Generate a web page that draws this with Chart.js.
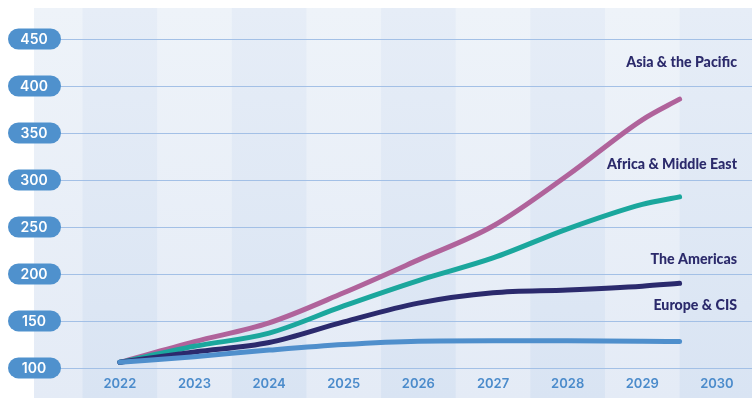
<!DOCTYPE html>
<html>
<head>
<meta charset="utf-8">
<style>
  html, body { margin: 0; padding: 0; background: #ffffff; }
  #wrap { width: 752px; height: 398px; position: relative; }
</style>
<script src="https://cdn.jsdelivr.net/npm/chart.js@4.4.1/dist/chart.umd.min.js"></script>
</head>
<body>
<div id="wrap"><canvas id="chart" width="752" height="398"></canvas></div>
<script>
// data
const years = [2022, 2023, 2024, 2025, 2026, 2027, 2028, 2029, 2029.5];
const tickYears = [2022, 2023, 2024, 2025, 2026, 2027, 2028, 2029, 2030];
const yTicks = [100, 150, 200, 250, 300, 350, 400, 450];

const asiaPacific = [106, 128, 148, 180, 215, 251, 305, 364, 386];
const africaMiddleEast = [106, 123, 137, 166, 193, 217, 248, 274, 282];
const americas = [106, 117, 127, 149, 169, 180, 183, 187, 190];
const europeCis = [106, 112, 119, 125, 128.5, 129, 129, 128.5, 128];

const seriesNames = ['Asia & the Pacific', 'Africa & Middle East', 'The Americas', 'Europe & CIS'];
const seriesColors = ['#b0639b', '#1ba79d', '#2b2a6d', '#4f8fcc'];
const labelOffsets = [-37, -32, -24, -36];

function toPoints(values) {
    return values.map((v, i) => ({ x: years[i], y: v }));
}

// background bands, grid lines, pill labels, year labels, series names
const decorPlugin = {
    id: 'decor',
    beforeDatasetsDraw(chart) {
        const { ctx, chartArea, scales } = chart;
        const x = scales.x, y = scales.y;
        ctx.save();
        const light = ctx.createLinearGradient(0, chartArea.top, 0, chartArea.bottom);
        light.addColorStop(0, '#eef3f9');
        light.addColorStop(1, '#e4ebf6');
        const dark = ctx.createLinearGradient(0, chartArea.top, 0, chartArea.bottom);
        dark.addColorStop(0, '#e6edf7');
        dark.addColorStop(1, '#d9e4f3');
        ctx.fillStyle = light;
        ctx.fillRect(chartArea.left, chartArea.top, chartArea.right - chartArea.left, chartArea.bottom - chartArea.top);
        tickYears.forEach((yr, i) => {
            if (i % 2 !== 0) return;
            const l = x.getPixelForValue(yr - 0.5);
            const r = Math.min(x.getPixelForValue(yr + 0.5), chartArea.right);
            ctx.fillStyle = dark;
            ctx.fillRect(l, chartArea.top, r - l, chartArea.bottom - chartArea.top);
        });
        // grid lines
        ctx.strokeStyle = '#a3c0e6';
        ctx.lineWidth = 1;
        yTicks.forEach(v => {
            const py = Math.round(y.getPixelForValue(v)) + 0.5;
            ctx.beginPath();
            ctx.moveTo(chartArea.left, py);
            ctx.lineTo(chartArea.right, py);
            ctx.stroke();
        });
        ctx.restore();
    },
    afterDraw(chart) {
        const { ctx, scales } = chart;
        const x = scales.x, y = scales.y;
        ctx.save();
        // y tick pills
        yTicks.forEach(v => {
            const py = y.getPixelForValue(v);
            ctx.fillStyle = '#4f91cd';
            ctx.beginPath();
            ctx.roundRect(8, py - 10.5, 53, 21, 10.5);
            ctx.fill();
            ctx.fillStyle = '#ffffff';
            ctx.font = '600 14px Inter, "Noto Sans", sans-serif';
            ctx.textAlign = 'center';
            ctx.textBaseline = 'middle';
            ctx.fillText(String(v), 34, py + 0.5);
        });
        // x labels
        ctx.fillStyle = '#4b8bcb';
        ctx.font = '600 13px Inter, "Noto Sans", sans-serif';
        ctx.textAlign = 'center';
        ctx.textBaseline = 'middle';
        tickYears.forEach(yr => {
            ctx.fillText(String(yr), x.getPixelForValue(yr), 384);
        });
        // series names
        ctx.fillStyle = '#2b2a6b';
        ctx.font = '900 14.2px Lato, "Noto Sans", sans-serif';
        ctx.textAlign = 'right';
        chart.data.datasets.forEach(ds => {
            const last = ds.data[ds.data.length - 1];
            const idx = seriesNames.indexOf(ds.label);
            ctx.fillText(ds.label, 737, y.getPixelForValue(last.y) + labelOffsets[idx]);
        });
        ctx.restore();
    }
};

const datasets = [asiaPacific, africaMiddleEast, americas, europeCis].map((vals, i) => ({
    label: seriesNames[i],
    data: toPoints(vals),
    borderColor: seriesColors[i],
    backgroundColor: seriesColors[i],
    borderWidth: 5,
    borderCapStyle: 'round',
    pointRadius: 0,
    cubicInterpolationMode: 'monotone',
    fill: false
})).reverse();

new Chart(document.getElementById('chart').getContext('2d'), {
    type: 'line',
    data: { datasets: datasets },
    options: {
        responsive: false,
        animation: false,
        layout: { padding: { left: 34, top: 8, right: 0, bottom: 0 } },
        plugins: { legend: { display: false }, tooltip: { enabled: false } },
        scales: {
            x: { type: 'linear', display: false, min: 2020.85, max: 2030.47 },
            y: {
                type: 'linear', display: false, min: 68, max: 483,
                afterBuildTicks: s => { s.ticks = yTicks.map(v => ({ value: v })); }
            }
        }
    },
    plugins: [decorPlugin]
});
</script>
</body>
</html>
